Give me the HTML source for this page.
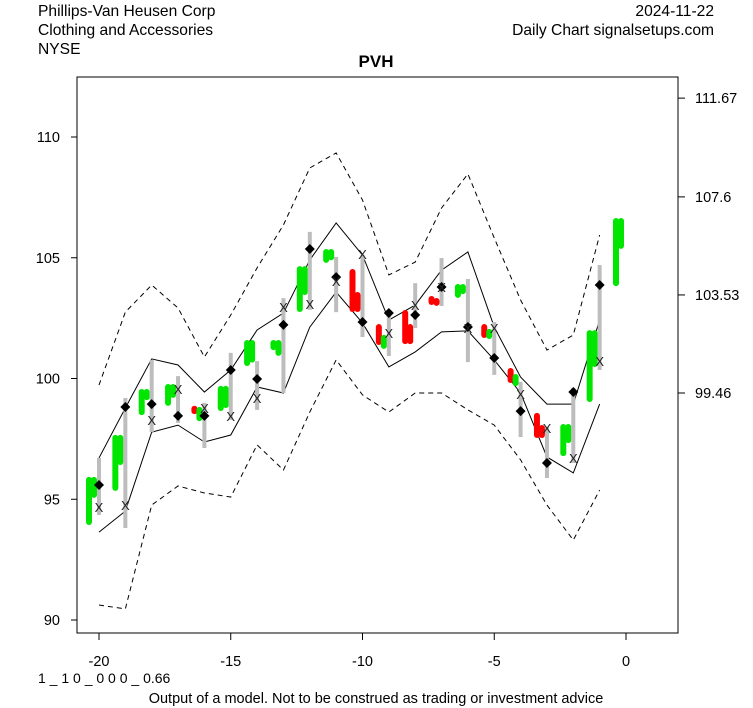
<!DOCTYPE html>
<html><head><meta charset="utf-8"><style>
body{margin:0;background:#fff;}
svg{display:block;font-family:"Liberation Sans",Arial,sans-serif;}
</style></head><body>
<svg id="chart" width="753" height="708" viewBox="0 0 753 708" xmlns="http://www.w3.org/2000/svg">
<rect width="753" height="708" fill="#fff"/>
<text x="38" y="16" font-size="15.6">Phillips-Van Heusen Corp</text>
<text x="38" y="35" font-size="15.6">Clothing and Accessories</text>
<text x="38" y="54" font-size="15.6">NYSE</text>
<text x="714" y="16" font-size="15.6" text-anchor="end">2024-11-22</text>
<text x="714" y="35" font-size="15.6" text-anchor="end">Daily Chart signalsetups.com</text>
<text x="376" y="67" font-size="17" font-weight="bold" text-anchor="middle">PVH</text>
<rect x="77" y="77" width="601" height="556" fill="none" stroke="#000" stroke-width="1"/>
<text x="38" y="683" font-size="14">1 _ 1 0 _ 0 0 0 _ 0.66</text>
<text x="376" y="703" font-size="14.5" text-anchor="middle">Output of a model. Not to be construed as trading or investment advice</text>
<g id="axes"></g><g id="bands"></g><g id="marks"></g>
</svg>
<script>
const days=[-20,-19,-18,-17,-16,-15,-14,-13,-12,-11,-10,-9,-8,-7,-6,-5,-4,-3,-2,-1];
const upperDash=[99.73,102.75,103.87,102.92,100.89,102.63,104.58,106.36,108.72,109.34,107.39,104.29,104.82,107.06,108.47,105.82,103.25,101.18,101.80,105.94];
const upperBand=[96.71,98.78,100.81,100.56,99.44,100.35,102.01,102.71,104.91,106.44,105.11,102.42,103.04,104.49,105.24,102.13,100.06,98.94,98.94,102.42];
const lowerBand=[93.64,94.51,97.78,98.07,97.37,97.66,99.65,99.40,102.13,103.58,102.30,100.48,101.10,101.93,101.97,100.77,99.40,96.75,96.09,98.94];
const lowerDash=[90.62,90.46,94.76,95.55,95.26,95.09,97.25,96.21,98.61,100.77,99.32,98.61,99.40,99.40,98.70,98.07,96.63,94.76,93.31,95.38];
const rangeHigh=[96.71,99.19,100.77,100.10,98.99,101.06,100.72,103.33,106.07,105.03,105.11,102.84,103.95,104.99,104.12,102.34,99.86,97.99,99.61,104.70];
const rangeLow=[94.35,93.81,97.78,98.16,97.12,98.28,98.70,99.40,102.84,102.75,101.72,100.93,102.09,103.00,100.68,100.15,97.58,95.88,96.50,100.35];
const diamondVals=[95.59,98.82,98.94,98.45,98.45,100.35,99.98,102.22,105.36,104.20,102.34,102.71,102.63,103.79,102.13,100.85,98.65,96.50,99.44,103.87];
const xVals=[94.68,94.76,98.28,99.57,98.78,98.45,99.19,102.96,103.08,104.04,105.16,101.88,103.04,103.79,102.09,102.09,99.36,97.95,96.71,100.72];
const barDays=[-20,-19,-18,-17,-16,-15,-14,-13,-12,-11,-10,-9,-8,-7,-6,-5,-4,-3,-2,-1,0];
const bar1Top=[95.80,97.54,99.44,99.65,98.75,99.57,101.47,101.47,104.53,105.24,104.41,102.13,102.71,103.29,103.79,102.13,100.31,98.45,97.99,101.88,106.52];
const bar1Bot=[94.06,95.47,98.61,98.99,98.65,98.78,100.64,101.30,102.88,104.91,102.88,101.51,101.55,103.17,103.46,101.80,99.94,97.66,96.91,99.15,103.95];
const bar1Col=["g","g","g","g","r","g","g","g","g","g","r","r","r","r","g","r","r","r","g","g","g"];
const bar2Top=[95.80,97.54,99.44,99.65,98.70,99.57,101.47,101.47,104.53,105.24,103.46,101.68,102.13,103.21,103.79,101.93,100.06,97.95,97.99,101.88,106.52];
const bar2Bot=[95.18,96.54,99.23,99.32,98.36,98.90,100.78,101.06,103.58,105.02,102.88,101.35,101.55,103.13,103.62,101.76,99.81,97.66,97.45,100.60,105.49];
const bar2Col=["g","g","g","g","g","g","g","g","g","g","r","g","r","r","g","g","g","r","g","g","g"];
const leftTicks=[90,95,100,105,110];
const bottomTicks=[-20,-15,-10,-5,0];
const rightTickLabels=["111.67","107.6","103.53","99.46"];
const rightTickVals=[111.61,107.52,103.46,99.40];

const NS="http://www.w3.org/2000/svg";
const X=d=>626+d*26.35;
const Y=v=>137+(110-v)*24.15;
function mk(parent,tag,attrs){const e=document.createElementNS(NS,tag);for(const k in attrs)e.setAttribute(k,attrs[k]);document.getElementById(parent).appendChild(e);return e;}
const COL={g:"#00e600",r:"#ff0000"};

leftTicks.forEach(t=>{
  const l=mk("axes","line",{x1:71,x2:77,y1:Y(t),y2:Y(t),stroke:"#000"});
  
  
  const tx=mk("axes","text",{x:60,y:Y(t)+5,"font-size":14.5,"text-anchor":"end"});tx.textContent=t;
  
  
});
bottomTicks.forEach(t=>{
  const l=mk("axes","line",{x1:X(t),x2:X(t),y1:633,y2:640,stroke:"#000"});
  
  
  const tx=mk("axes","text",{x:X(t),y:666,"font-size":14.5,"text-anchor":"middle"});tx.textContent=t;
  
  
});
rightTickVals.forEach((v,i)=>{
  const l=mk("axes","line",{x1:678,x2:685,y1:Y(v),y2:Y(v),stroke:"#000"});
  
  
  const tx=mk("axes","text",{x:695,y:Y(v)+5,"font-size":14.5});tx.textContent=rightTickLabels[i];
  
  
});
function band(arr,dash,name){
  const p=mk("bands","polyline",{points:arr.map((v,i)=>X(days[i])+","+Y(v)).join(" "),fill:"none",stroke:"#000","stroke-width":1,"stroke-dasharray":dash?"5,4":"none"});
  
  
}
band(upperDash,true,'upper-dashed-band');band(upperBand,false,'upper-band');band(lowerBand,false,'lower-band');band(lowerDash,true,'lower-dashed-band');

barDays.forEach((d,i)=>{
  const b1=mk("marks","line",{x1:X(d)-10,x2:X(d)-10,y1:Y(bar1Top[i]),y2:Y(bar1Bot[i]),stroke:COL[bar1Col[i]],"stroke-width":6,"stroke-linecap":"round"});
  
  
  const b2=mk("marks","line",{x1:X(d)-5,x2:X(d)-5,y1:Y(bar2Top[i]),y2:Y(bar2Bot[i]),stroke:COL[bar2Col[i]],"stroke-width":6,"stroke-linecap":"round"});
  
  
});
days.forEach((d,i)=>{
  const g=mk("marks","line",{x1:X(d),x2:X(d),y1:Y(rangeHigh[i]),y2:Y(rangeLow[i]),stroke:"#bdbdbd","stroke-width":4});
  
  
  const x=X(d),y=Y(diamondVals[i]);
  const dm=mk("marks","polygon",{points:`${x-5},${y} ${x},${y-5} ${x+5},${y} ${x},${y+5}`,fill:"#000"});
  
  
  const t=mk("marks","text",{x:x,y:Y(xVals[i])+5,"font-size":13,"text-anchor":"middle",fill:"#222"});t.textContent="X";
  
  
});
</script>
</body></html>
